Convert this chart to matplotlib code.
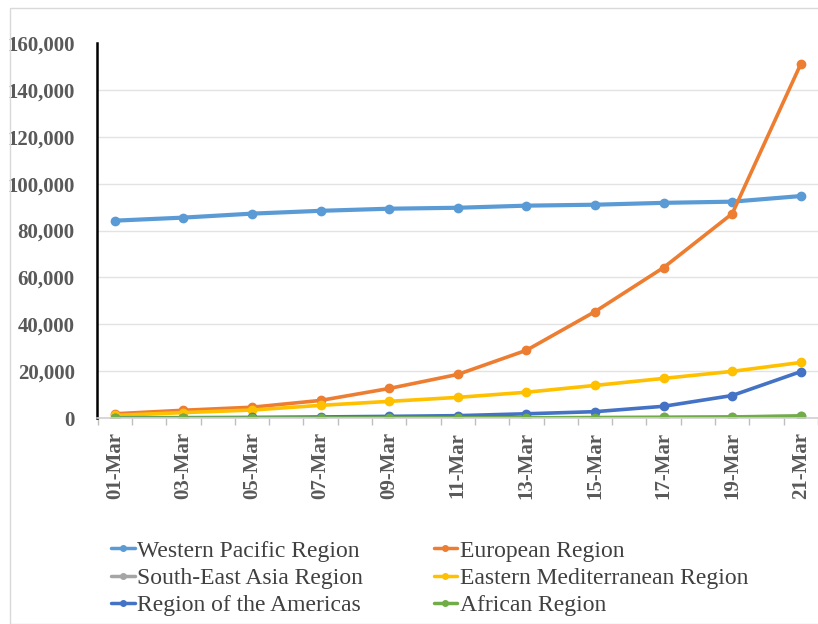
import matplotlib
matplotlib.use("Agg")
import matplotlib.pyplot as plt
from matplotlib.patches import Rectangle

# Confirmed cases by WHO region, every second day of March
dates = ["01-Mar", "03-Mar", "05-Mar", "07-Mar", "09-Mar", "11-Mar",
         "13-Mar", "15-Mar", "17-Mar", "19-Mar", "21-Mar"]

western_pacific = [84200, 85500, 87200, 88400, 89300, 89700,
                   90600, 91000, 91800, 92300, 94700]
european = [1800, 3300, 4600, 7500, 12600, 18600,
            28900, 45400, 64200, 87200, 151100]
south_east_asia = [3, 5, 8, 15, 30, 60, 100, 150, 250, 400, 700]
eastern_med = [1100, 2300, 3400, 5400, 7100, 8800,
               11000, 13900, 16900, 19900, 23700]
americas = [100, 150, 250, 450, 700, 1000, 1800, 2700, 5000, 9600, 19800]
african = [2, 3, 5, 10, 20, 40, 70, 150, 250, 450, 900]

series = [
    ("Western Pacific Region", western_pacific, "#5B9BD5"),
    ("European Region", european, "#ED7D31"),
    ("South-East Asia Region", south_east_asia, "#A5A5A5"),
    ("Eastern Mediterranean Region", eastern_med, "#FFC000"),
    ("Region of the Americas", americas, "#4472C4"),
    ("African Region", african, "#70AD47"),
]

serif = ["Liberation Serif", "DejaVu Serif"]

fig = plt.figure(figsize=(8.18, 6.24), dpi=100)
ax = fig.add_axes([97 / 818, 1 - 418 / 624, 1 - 97 / 818, (418 - 43) / 624])

x = list(range(len(dates)))
handles = {}
for name, values, color in series:
    lw = 3.0 if name == "Western Pacific Region" else 2.6
    (ln,) = ax.plot(x, values, color=color, lw=lw, marker="o", ms=6,
                    solid_capstyle="round")
    handles[name] = ln

ax.set_xlim(-0.26, 10.15)
ax.set_ylim(0, 160000)
ax.set_yticks(range(0, 160001, 20000))
ax.set_yticklabels([f"{v:,}" for v in range(0, 160001, 20000)])
ax.set_xticks(x)
ax.set_xticklabels(dates, rotation=90)
ax.set_xticks([k * 0.5 - 0.25 for k in range(22)], minor=True)

for lab in ax.get_yticklabels() + ax.get_xticklabels():
    lab.set_family(serif)
    lab.set_fontweight("bold")
    lab.set_color("#595959")
    lab.set_fontsize(15)

ax.tick_params(axis="y", length=0, pad=16)
ax.tick_params(axis="x", which="major", length=0, pad=10)
ax.tick_params(axis="x", which="minor", length=5, color="#BFBFBF", width=1)

ax.grid(axis="y", color="#E3E3E3", lw=1)
ax.set_axisbelow(True)
ax.yaxis.get_gridlines()[-1].set_visible(False)
ax.yaxis.get_gridlines()[0].set_visible(False)

for side in ["top", "right"]:
    ax.spines[side].set_visible(False)
ax.spines["left"].set_color("black")
ax.spines["left"].set_linewidth(1.8)
ax.spines["bottom"].set_color("#D0D0D0")
ax.spines["bottom"].set_linewidth(1.2)

# Legend laid out row by row: two columns
order = ["Western Pacific Region", "South-East Asia Region", "Region of the Americas",
         "European Region", "Eastern Mediterranean Region", "African Region"]
leg = fig.legend([handles[n] for n in order], order, loc="upper left",
                 bbox_to_anchor=(111 / 818, 1 - 540 / 624), ncol=2,
                 frameon=False, borderpad=0, borderaxespad=0,
                 handlelength=1.0, handletextpad=0.1, columnspacing=3.0,
                 labelspacing=0.25,
                 prop={"family": serif, "size": 17})
for t in leg.get_texts():
    t.set_color("#404040")
for h in leg.legend_handles:
    h.set_markersize(4)
    h.set_linewidth(2.5)

# Light border round the chart area
fig.patches.append(Rectangle((10 / 818, 0), 1, 1 - 8 / 624, transform=fig.transFigure,
                             fill=False, edgecolor="#D9D9D9", lw=1))

fig.savefig("out.png", dpi=100)
